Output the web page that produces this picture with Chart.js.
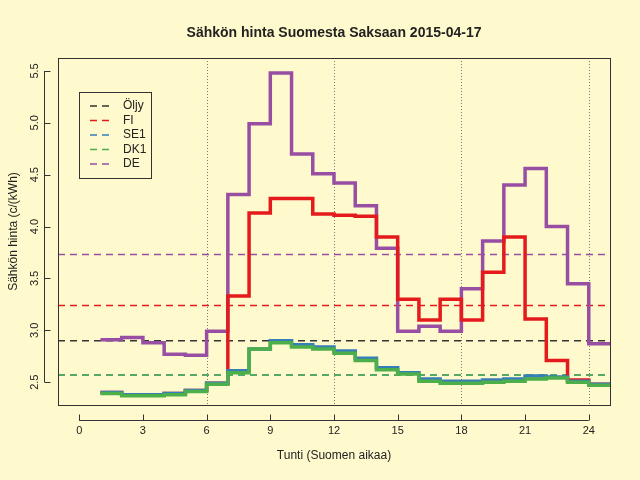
<!DOCTYPE html>
<html><head><meta charset="utf-8">
<script src="https://cdn.jsdelivr.net/npm/chart.js@4"></script>
<style>body{margin:0;background:#FFFACD}</style></head>
<body><canvas id="c" width="640" height="480"></canvas>
<script>
const hours=[1,2,3,4,5,6,7,8,9,10,11,12,13,14,15,16,17,18,19,20,21,22,23,24];
const DE=[2.91,2.93,2.88,2.77,2.76,2.99,4.31,4.99,5.48,4.70,4.51,4.42,4.20,3.79,2.99,3.04,2.99,3.40,3.86,4.40,4.56,4.00,3.45,2.87];
const FI=[2.40,2.38,2.38,2.39,2.42,2.49,3.33,4.13,4.27,4.27,4.12,4.11,4.10,3.90,3.30,3.10,3.30,3.10,3.56,3.90,3.11,2.71,2.52,2.48];
const SE1=[2.40,2.38,2.38,2.39,2.42,2.49,2.61,2.82,2.90,2.86,2.84,2.80,2.73,2.64,2.59,2.53,2.51,2.51,2.52,2.53,2.56,2.55,2.51,2.48];
const DK1=[2.39,2.37,2.37,2.38,2.41,2.48,2.59,2.82,2.88,2.84,2.82,2.78,2.71,2.62,2.58,2.51,2.49,2.49,2.50,2.51,2.53,2.54,2.50,2.47];
const avgNames=['Öljy','FI','SE1','DK1','DE'];
const avgValues=[2.90,3.24,2.57,2.57,3.73];
const avgColors=['#333333','#E41A1C','#377EB8','#4DAF4A','#984EA3'];
const xTicks=[0,3,6,9,12,15,18,21,24];
const yTicks=[2.5,3.0,3.5,4.0,4.5,5.0,5.5];
const vGrid=[6,12,18,24];

function steps(v){const p=hours.map((h,i)=>({x:h,y:v[i]}));p.push({x:25,y:v[v.length-1]});return p;}
const ds=[];
avgValues.forEach((v,i)=>ds.push({data:[{x:-1,y:v},{x:25,y:v}],borderColor:avgColors[i],borderWidth:1.5,borderDash:[7,5],pointRadius:0,order:10-i}));
[[DE,'#984EA3',4],[FI,'#E41A1C',3],[SE1,'#377EB8',2],[DK1,'#4DAF4A',1]].forEach(([v,c,o])=>ds.push({data:steps(v),borderColor:c,borderWidth:3.5,stepped:'before',pointRadius:0,order:o}));

const deco={id:'deco',
 beforeDatasetsDraw(ch){const c=ch.ctx,a=ch.chartArea,x=ch.scales.x;
  c.save();c.strokeStyle='#777';c.lineWidth=1;c.setLineDash([1,2]);
  vGrid.forEach(g=>{const px=Math.round(x.getPixelForValue(g))+0.5;c.beginPath();c.moveTo(px,a.top);c.lineTo(px,a.bottom);c.stroke();});
  c.restore();},
 afterDraw(ch){const c=ch.ctx,a=ch.chartArea,x=ch.scales.x,y=ch.scales.y;
  c.save();c.strokeStyle='#333';c.lineWidth=1;
  c.strokeRect(a.left+0.5,a.top+0.5,a.right-a.left,a.bottom-a.top);
  const ay=a.bottom+15.5;c.beginPath();c.moveTo(x.getPixelForValue(0),ay);c.lineTo(x.getPixelForValue(24),ay);
  xTicks.forEach(t=>{const px=Math.round(x.getPixelForValue(t))+0.5;c.moveTo(px,ay);c.lineTo(px,ay-6);});c.stroke();
  c.fillStyle='#222';c.font='11px "Liberation Sans",Arial,sans-serif';c.textAlign='center';c.textBaseline='top';
  xTicks.forEach(t=>c.fillText(String(t),x.getPixelForValue(t),ay+5));
  c.font='12px "Liberation Sans",Arial,sans-serif';c.fillText('Tunti (Suomen aikaa)',(a.left+a.right)/2,450);
  const ax=a.left-13.5;c.beginPath();c.moveTo(ax,y.getPixelForValue(2.5));c.lineTo(ax,y.getPixelForValue(5.5));
  yTicks.forEach(t=>{const py=Math.round(y.getPixelForValue(t))+0.5;c.moveTo(ax,py);c.lineTo(ax+6,py);});c.stroke();
  c.font='11px "Liberation Sans",Arial,sans-serif';
  yTicks.forEach(t=>{c.save();c.translate(ax-4,y.getPixelForValue(t));c.rotate(-Math.PI/2);c.textBaseline='bottom';c.fillText(t.toFixed(1),0,0);c.restore();});
  c.save();c.translate(14,(a.top+a.bottom)/2);c.rotate(-Math.PI/2);c.textBaseline='middle';c.font='12px "Liberation Sans",Arial,sans-serif';c.fillText('Sähkön hinta (c/(kWh)',0,0);c.restore();
  c.font='bold 14px "Liberation Sans",Arial,sans-serif';c.textBaseline='middle';c.fillText('Sähkön hinta Suomesta Saksaan 2015-04-17',(a.left+a.right)/2,33);
  c.fillStyle='#FFFACD';c.fillRect(79.5,92.5,72,86);c.strokeRect(79.5,92.5,72,86);
  c.textAlign='left';c.font='12px "Liberation Sans",Arial,sans-serif';c.lineWidth=1.5;
  avgNames.forEach((n,i)=>{const ly=106+i*14.5;c.strokeStyle=avgColors[i];c.setLineDash([7,5]);c.beginPath();c.moveTo(90,ly);c.lineTo(114,ly);c.stroke();c.setLineDash([]);c.fillStyle='#222';c.fillText(n,123,ly);});
  c.restore();}
};
new Chart(document.getElementById('c'),{type:'line',data:{datasets:ds},
 options:{responsive:false,animation:false,events:[],layout:{padding:{left:58,right:30,top:58,bottom:75}},
  plugins:{legend:{display:false},tooltip:{enabled:false}},
  scales:{x:{type:'linear',min:-1,max:25,display:false},y:{min:2.28,max:5.625,display:false}}},
 plugins:[deco]});
</script></body></html>
